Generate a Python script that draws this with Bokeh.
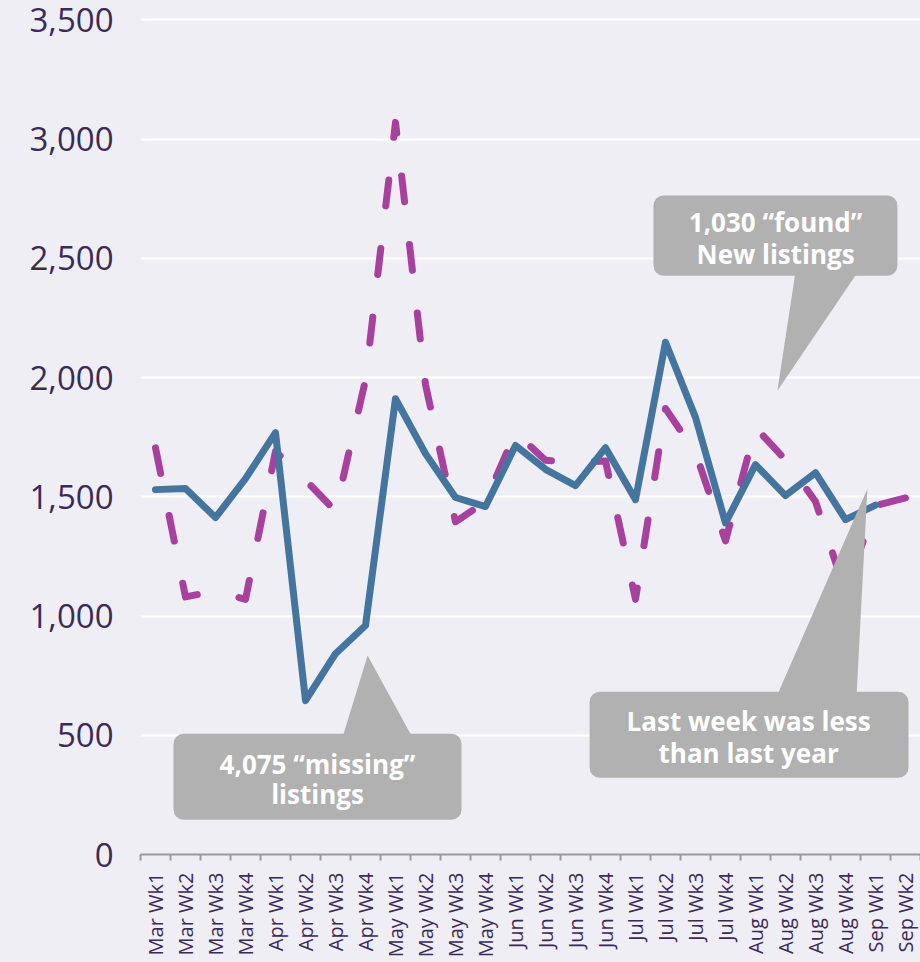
import numpy as np
from bokeh.plotting import figure
from bokeh.models import (Range1d, FixedTicker, NumeralTickFormatter,
                          BoxAnnotation, PolyAnnotation, Label)
from bokeh.embed import file_html
from bokeh.resources import INLINE

# ---------------- data ----------------
weeks = ["Mar Wk1", "Mar Wk2", "Mar Wk3", "Mar Wk4",
         "Apr Wk1", "Apr Wk2", "Apr Wk3", "Apr Wk4",
         "May Wk1", "May Wk2", "May Wk3", "May Wk4",
         "Jun Wk1", "Jun Wk2", "Jun Wk3", "Jun Wk4",
         "Jul Wk1", "Jul Wk2", "Jul Wk3", "Jul Wk4",
         "Aug Wk1", "Aug Wk2", "Aug Wk3", "Aug Wk4",
         "Sep Wk1", "Sep Wk2"]

this_year = [1530, 1535, 1413, 1576,
             1769, 645, 842, 960,
             1911, 1681, 1497, 1459,
             1715, 1615, 1547, 1706,
             1488, 2148, 1833, 1390,
             1635, 1505, 1601, 1404,
             1465, np.nan]

last_year = [1705, 1080, 1105, 1070,
             1690, 1570, 1440, 1990,
             3070, 1970, 1395, 1480,
             1770, 1653, 1645, 1650,
             1070, 1870, 1685, 1315,
             1790, 1655, 1480, 1100,
             1463, 1495]

y_ticks = [0, 500, 1000, 1500, 2000, 2500, 3000, 3500]

# ---------------- style ----------------
BG = "#f0eef5"
BLUE = "#44759f"
PINK = "#a8409d"
GRAY = "#b0b1b0"
TXT = "#3a2a58"
AXIS = "#9a9a9a"

x = list(range(len(weeks)))

p = figure(width=920, height=962,
           x_range=Range1d(-0.5, len(weeks) - 0.5),
           y_range=Range1d(0, 3581),
           output_backend="svg", toolbar_location=None,
           min_border_left=140, min_border_right=0,
           min_border_top=0, min_border_bottom=108,
           background_fill_color=BG, border_fill_color=BG,
           outline_line_color=None)

# x axis: labels at centres, small tick marks at boundaries (minor ticks)
p.xaxis.ticker = FixedTicker(ticks=x,
                             minor_ticks=[i - 0.5 for i in range(len(weeks) + 1)])
p.xaxis.major_label_overrides = {i: w for i, w in enumerate(weeks)}
p.xaxis.major_label_orientation = np.pi / 2
p.xaxis.major_tick_out = 0
p.xaxis.major_tick_in = 0
p.xaxis.minor_tick_out = 6
p.xaxis.minor_tick_in = 0
p.xaxis.minor_tick_line_color = AXIS
p.xaxis.minor_tick_line_width = 2
p.xaxis.axis_line_color = AXIS
p.xaxis.axis_line_width = 2
p.xaxis.major_label_standoff = 12
p.xaxis.major_label_text_font = "Open Sans"
p.xaxis.major_label_text_font_size = "20px"
p.xaxis.major_label_text_color = TXT

# y axis
p.yaxis.ticker = FixedTicker(ticks=y_ticks)
p.yaxis.formatter = NumeralTickFormatter(format="0,0")
p.yaxis.axis_line_color = None
p.yaxis.major_tick_line_color = None
p.yaxis.minor_tick_line_color = None
p.yaxis.major_label_standoff = 21
p.yaxis.major_label_text_font = "Open Sans"
p.yaxis.major_label_text_font_size = "33px"
p.yaxis.major_label_text_color = TXT

p.xgrid.visible = False
p.ygrid.ticker = FixedTicker(ticks=y_ticks)
p.ygrid.grid_line_color = "white"
p.ygrid.grid_line_width = 2

# lines
p.line(x, last_year, line_color=PINK, line_width=7, line_dash="26 43",
       line_cap="round", line_join="round")
p.line(x, this_year, line_color=BLUE, line_width=7,
       line_cap="round", line_join="round")

# callouts
def callout(box, tri, lines):
    l, r, b, t = box
    p.add_layout(BoxAnnotation(left=l, right=r, bottom=b, top=t,
                               fill_color=GRAY, fill_alpha=1.0,
                               line_color=None, border_radius=10))
    p.add_layout(PolyAnnotation(xs=tri[0], ys=tri[1], fill_color=GRAY,
                                fill_alpha=1.0, line_color=None))
    for (tx, ty, txt) in lines:
        p.add_layout(Label(x=tx, y=ty, text=txt, text_align="center",
                           text_baseline="middle", text_color="white",
                           text_font="Open Sans", text_font_style="bold",
                           text_font_size="26px"))

callout((0.6, 10.2, 146, 506),
        ([6.23, 8.57, 7.07], [490, 490, 834]),
        [(5.4, 381, "4,075 \u201cmissing\u201d"), (5.4, 252, "listings")])

callout((16.6, 24.73, 2427, 2763),
        ([21.33, 23.4, 20.73], [2440, 2440, 1945]),
        [(20.67, 2654, "1,030 \u201cfound\u201d"), (20.67, 2520, "New listings")])

callout((14.47, 25.1, 322, 682),
        ([20.73, 23.37, 23.73], [670, 670, 1534]),
        [(19.77, 561, "Last week was less"), (19.77, 427, "than last year")])

html = file_html(p, INLINE)
html = html.replace("<head>", "<head><style>body{background:#f0eef5;}</style>", 1)
open("out.html", "w").write(html)
